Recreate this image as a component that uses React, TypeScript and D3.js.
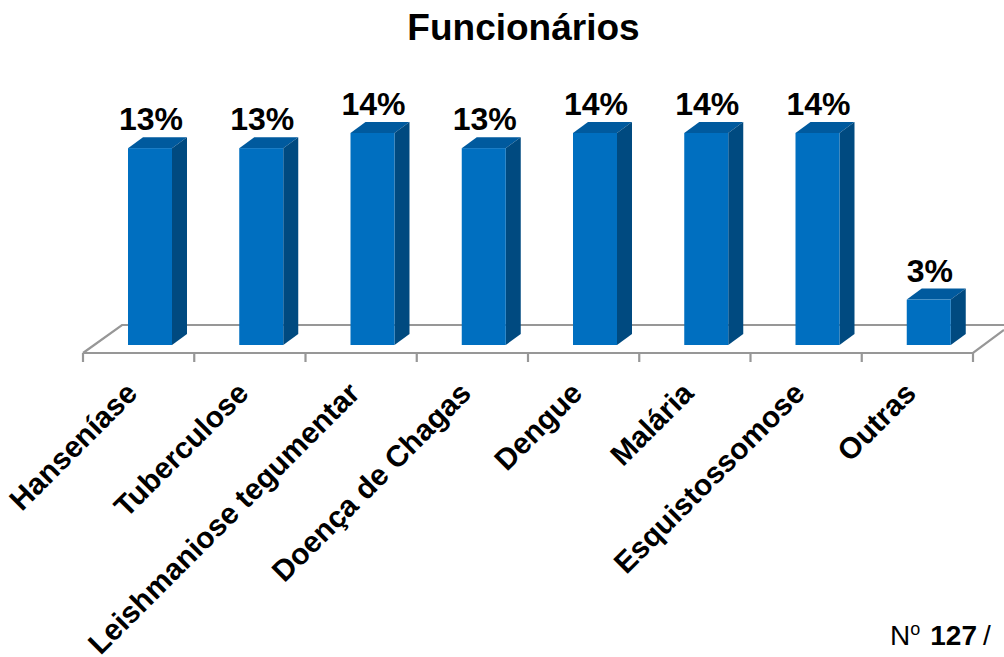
import React from "react";
import * as d3 from "d3";

const categories = ["Hanseníase", "Tuberculose", "Leishmaniose tegumentar", "Doença de Chagas", "Dengue", "Malária", "Esquistossomose", "Outras"];
const values = [13, 13, 14, 13, 14, 14, 14, 3];

const W = 1004, H = 657;
const font = "'Liberation Sans', Arial, sans-serif";
const floorFront = 353, floorBack = 325, barBase = 345;
const dx = 15, dy = 11, barW = 44;

const x = d3.scaleBand<string>().domain(categories).range([83, 973]).paddingInner(0).paddingOuter(0);
const y = d3.scaleLinear().domain([0, 14]).range([barBase, barBase - 212]);

export default function App() {
  const axisColor = "#979797";
  return (
    <svg width={W} height={H} viewBox={`0 0 ${W} ${H}`} style={{ position: "absolute", left: 0, top: 0, background: "#fff" }}>
      <text x={523.5} y={40} textAnchor="middle" fontFamily={font} fontWeight="bold" fontSize={37} fill="#000">Funcionários</text>

      {/* floor of the 3D plot */}
      <g stroke={axisColor} strokeWidth={2.2} fill="none">
        <path d={`M83,${floorFront} L122,${floorBack} H1004`} />
        <path d={`M83,${floorFront} H973 L1004,${floorBack + 5}`} />
        {[...categories.map(c => x(c)!), 973].map((t, i) => (
          <line key={i} x1={t} x2={t} y1={floorFront} y2={floorFront + 9} />
        ))}
      </g>

      {categories.map((c, i) => {
        const left = x(c)! + 45;
        const right = left + barW;
        const top = y(values[i]);
        const cx = left + barW / 2;
        return (
          <g key={c}>
            <path d={`M${left},${top} L${left + dx},${top - dy} H${right + dx} L${right},${top} Z`} fill="#005A9E" />
            <path d={`M${right},${top} L${right + dx},${top - dy} V${barBase - dy} L${right},${barBase} Z`} fill="#004A80" />
            <rect x={left} y={top} width={barW} height={barBase - top} fill="#006FC0" />
            <text x={cx + 1} y={top - 18} textAnchor="middle" fontFamily={font} fontWeight="bold" fontSize={32} fill="#000">{values[i]}%</text>
            <text
              transform={`translate(${x(c)! + 56},${395}) rotate(-45)`}
              textAnchor="end"
              fontFamily={font}
              fontWeight="bold"
              fontSize={29.8}
              fill="#000"
            >{c}</text>
          </g>
        );
      })}

      <text x={890} y={645} fontFamily={font} fontSize={28} fill="#000">
        N<tspan dy={-10} fontSize={18}>o</tspan><tspan dy={10} dx={10} fontWeight="bold">127</tspan><tspan dx={6}>/</tspan>
      </text>
    </svg>
  );
}
